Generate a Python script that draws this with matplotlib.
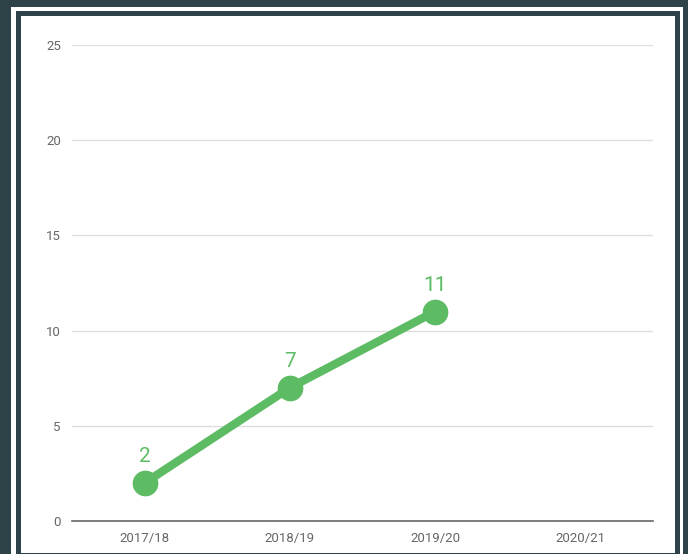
import matplotlib.pyplot as plt
from matplotlib.patches import Rectangle

plt.rcParams["font.family"] = ['Roboto', 'DejaVu Sans']

seasons = ['2017/18', '2018/19', '2019/20', '2020/21']
values = [2, 7, 11]
yticks = [0, 5, 10, 15, 20, 25]

W, H = 688, 554
fig = plt.figure(figsize=(W / 100, H / 100), dpi=100, facecolor='#2d4347')

def box(x0, y0, x1, y1, color):
    # pixel box, y measured from the top
    fig.patches.append(Rectangle((x0 / W, 1 - y1 / H), (x1 - x0) / W, (y1 - y0) / H,
                                 transform=fig.transFigure, facecolor=color,
                                 edgecolor='none', zorder=-2))

box(11, 7, 683, 560, 'white')
box(16, 11, 680, 560, '#2d4347')
box(21, 16, 675, 553, 'white')

ax = fig.add_axes([72 / W, 1 - 521 / H, (653 - 72) / W, (521 - 45) / H])
ax.set_zorder(2)
ax.patch.set_alpha(0)

ax.plot(range(len(values)), values, color='#5dbb63', lw=6, marker='o',
        markersize=17.5, solid_capstyle='round', zorder=3)
for i, v in enumerate(values):
    ax.annotate(str(v), (i, v), xytext=(0, 12), textcoords='offset points',
                ha='center', va='bottom', fontsize=15, color='#5dbb63')

ax.set_xlim(-0.5, len(seasons) - 0.5)
ax.set_ylim(0, 25)
ax.set_xticks(range(len(seasons)))
ax.set_xticklabels(seasons)
ax.set_yticks(yticks)
ax.grid(axis='y', color='#dddddd', lw=1)
ax.set_axisbelow(True)
for s in ['top', 'right', 'left']:
    ax.spines[s].set_visible(False)
ax.spines['bottom'].set_color('#666666')
ax.spines['bottom'].set_linewidth(1.2)
ax.tick_params(length=0, labelsize=9.5, colors='#666666', pad=8)

fig.savefig('out.png', dpi=100, facecolor=fig.get_facecolor())
